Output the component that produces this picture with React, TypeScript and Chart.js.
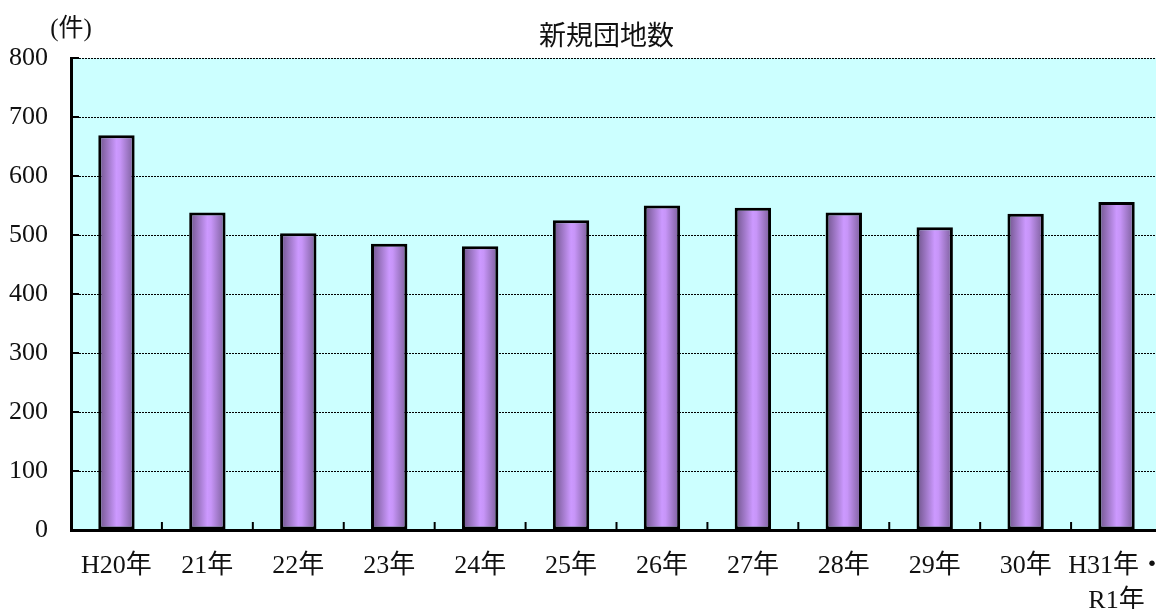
import React, { useEffect, useRef } from "react";
import { Chart, registerables } from "chart.js";

Chart.register(...registerables);

const categories: (string | string[])[] = [
  "H20年", "21年", "22年", "23年", "24年", "25年",
  "26年", "27年", "28年", "29年", "30年", ["H31年・", "R1年"],
];
const values = [669, 538, 503, 485, 481, 525, 550, 546, 538, 513, 536, 556];
const yMin = 0;
const yMax = 800;
const yStep = 100;
const titleText = "新規団地数";
const unitText = "(件)";

const FONT = '"Liberation Serif", "Noto Sans CJK JP", serif';

const decoPlugin = {
  id: "deco",
  beforeDraw(chart: any) {
    const { ctx, chartArea: a } = chart;
    ctx.save();
    ctx.fillStyle = "#CCFFFF";
    ctx.fillRect(a.left, a.top, a.right - a.left, a.bottom - a.top);
    ctx.restore();
  },
  beforeDatasetsDraw(chart: any) {
    const { ctx } = chart;
    const meta = chart.getDatasetMeta(0);
    meta.data.forEach((el: any) => {
      const { x, width } = el.getProps(["x", "width"], true);
      const g = ctx.createLinearGradient(x - width / 2, 0, x + width / 2, 0);
      g.addColorStop(0, "#6c5287");
      g.addColorStop(0.5, "#cc99ff");
      g.addColorStop(0.6, "#c795f8");
      g.addColorStop(1, "#785c96");
      el.options = { ...el.options, backgroundColor: g };
    });
  },
  afterDraw(chart: any) {
    const { ctx, chartArea: a } = chart;
    const xs = chart.scales.x;
    const ys = chart.scales.y;
    ctx.save();
    ctx.strokeStyle = "#000";
    ctx.lineWidth = 2;
    // inner y ticks
    for (let v = yMin; v <= yMax; v += yStep) {
      const py = ys.getPixelForValue(v);
      ctx.beginPath();
      ctx.moveTo(a.left, py);
      ctx.lineTo(a.left + 8, py);
      ctx.stroke();
    }
    // inner x ticks at category boundaries
    for (let i = 0; i < categories.length - 1; i++) {
      const px = (xs.getPixelForValue(i) + xs.getPixelForValue(i + 1)) / 2;
      ctx.beginPath();
      ctx.moveTo(px, a.bottom);
      ctx.lineTo(px, a.bottom - 8);
      ctx.stroke();
    }
    // title
    ctx.fillStyle = "#111";
    ctx.textAlign = "center";
    ctx.textBaseline = "middle";
    ctx.font = `27px ${FONT}`;
    ctx.fillText(titleText, (a.left + a.right) / 2 - 10, a.top - 20);
    // unit
    ctx.font = `25px ${FONT}`;
    ctx.fillText(unitText, a.left, a.top - 29);
    ctx.restore();
  },
};

export default function App() {
  const ref = useRef<HTMLCanvasElement | null>(null);
  useEffect(() => {
    if (!ref.current) return;
    const chart = new Chart(ref.current, {
      type: "bar",
      data: {
        labels: categories as any,
        datasets: [
          {
            data: values,
            backgroundColor: "#cc99ff",
            borderColor: "#000",
            borderWidth: 3,
            borderSkipped: false,
            barPercentage: 0.4,
            categoryPercentage: 1,
          },
        ],
      },
      options: {
        animation: false,
        responsive: true,
        maintainAspectRatio: false,
        layout: { padding: { left: 9, right: 4, top: 58, bottom: 1 } },
        plugins: {
          legend: { display: false },
          title: { display: false },
          tooltip: { enabled: false },
        },
        scales: {
          x: {
            grid: { drawOnChartArea: false, drawTicks: false },
            border: { display: true, width: 3, color: "#000" },
            ticks: {
              color: "#111",
              font: { family: FONT, size: 26, lineHeight: 1.36 },
              padding: 18,
              maxRotation: 0,
              autoSkip: false,
            },
            afterFit: (s: any) => {
              s.paddingLeft = 0;
              s.paddingRight = 0;
              s.height = 85;
            },
          },
          y: {
            min: yMin,
            max: yMax,
            grid: { color: "#000", lineWidth: 1, drawTicks: false },
            border: { display: true, width: 3, color: "#000", dash: [2, 1] },
            ticks: {
              stepSize: yStep,
              color: "#111",
              font: { family: FONT, size: 26 },
              padding: 23,
            },
            afterFit: (s: any) => {
              s.paddingTop = 0;
              s.paddingBottom = 0;
              s.width = 62;
            },
          },
        },
      },
      plugins: [decoPlugin],
    });
    return () => chart.destroy();
  }, []);
  return (
    <div
      style={{
        position: "fixed",
        left: 0,
        top: 0,
        width: 1156,
        height: 609,
        overflow: "hidden",
        background: "#fff",
      }}
    >
      <div style={{ position: "relative", width: 1166, height: 616 }}>
        <canvas ref={ref} />
      </div>
    </div>
  );
}
